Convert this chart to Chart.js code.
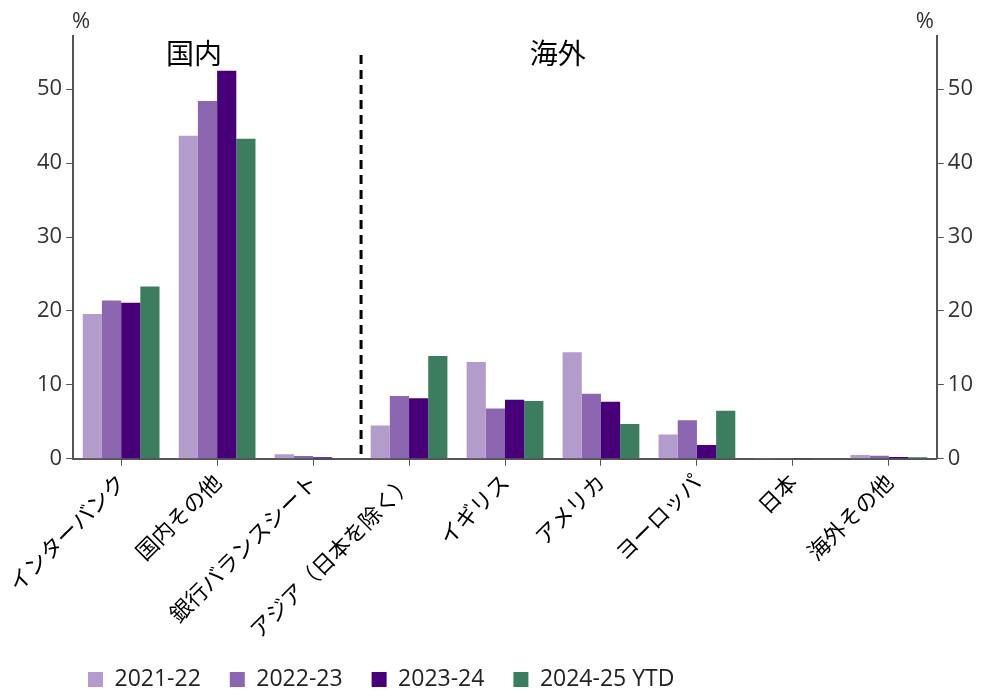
<!DOCTYPE html>
<html>
<head>
    <title>国内・海外</title>
    <style>
        body { margin: 0; background: #fff; }
        #wrap { width: 984px; height: 691px; }
    </style>
</head>
<body>
    <script src="https://cdn.jsdelivr.net/npm/chart.js@4/dist/chart.umd.min.js"></script>
    <div id="wrap"><canvas id="myChart"></canvas></div>

    <script>
        const categories = ['インターバンク', '国内その他', '銀行バランスシート', 'アジア（日本を除く）', 'イギリス', 'アメリカ', 'ヨーロッパ', '日本', '海外その他'];
        const seriesNames = ['2021-22', '2022-23', '2023-24', '2024-25 YTD'];
        const values2122 = [19.6, 43.7, 0.6, 4.5, 13.1, 14.4, 3.3, 0.1, 0.5];
        const values2223 = [21.4, 48.4, 0.37, 8.5, 6.8, 8.8, 5.2, 0.05, 0.4];
        const values2324 = [21.1, 52.5, 0.2, 8.2, 8.0, 7.7, 1.85, 0.02, 0.25];
        const values2425 = [23.3, 43.3, 0.05, 13.9, 7.8, 4.7, 6.5, 0.02, 0.2];
        const yTicks = [0, 10, 20, 30, 40, 50];
        const yMax = 57.2;

        const colors = ['#b39bcb', '#8c66b1', '#470078', '#3b7d5e'];
        const CJK = "'Noto Sans CJK JP', 'Noto Sans', sans-serif";
        const NUM = "'Open Sans', 'Noto Sans', sans-serif";

        // 注釈と破線
        const notes = {
            id: 'notes',
            afterDraw(chart) {
                const ctx = chart.ctx;
                const x = chart.scales.x;
                const area = chart.chartArea;
                const w = area.right - area.left;
                ctx.save();
                // 国内／海外の区切り
                const sep = (x.getPixelForValue(2) + x.getPixelForValue(3)) / 2;
                ctx.strokeStyle = '#000';
                ctx.lineWidth = 3;
                ctx.setLineDash([9, 6]);
                ctx.beginPath();
                ctx.moveTo(sep, area.top + 19);
                ctx.lineTo(sep, area.bottom);
                ctx.stroke();
                ctx.setLineDash([]);

                ctx.fillStyle = '#000';
                ctx.font = '28px ' + CJK;
                ctx.textAlign = 'center';
                ctx.textBaseline = 'middle';
                ctx.fillText('国内', area.left + w * 0.14, area.top + 17);
                ctx.fillText('海外', area.left + w * 0.561, area.top + 17);

                ctx.fillStyle = '#333';
                ctx.font = '22px ' + NUM;
                ctx.fillText('%', area.left + 8, area.top - 14);
                ctx.fillText('%', area.right - 12, area.top - 14);
                ctx.restore();
            }
        };

        // 凡例を左寄せ・少し上へ
        const legendShift = {
            id: 'legendShift',
            afterLayout(chart) {
                chart.legend.left = 59;
                chart.legend.top -= 7;
            }
        };

        const yScale = (pos) => ({
            position: pos,
            min: 0,
            max: yMax,
            afterBuildTicks: (s) => { s.ticks = yTicks.map(v => ({ value: v })); },
            border: { color: '#555', width: 2 },
            grid: { drawOnChartArea: false, drawTicks: true, tickLength: 7, color: '#555', lineWidth: 1 },
            ticks: { color: '#333', font: { size: 22, family: NUM }, padding: 4 }
        });

        new Chart('myChart', {
            type: 'bar',
            data: {
                labels: categories,
                datasets: [values2122, values2223, values2324, values2425].map((d, i) => ({
                    label: seriesNames[i],
                    data: d,
                    backgroundColor: colors[i],
                    categoryPercentage: 0.8,
                    barPercentage: 1.0,
                    yAxisID: 'y'
                }))
            },
            options: {
                responsive: true,
                maintainAspectRatio: false,
                animation: false,
                layout: { padding: { top: 36, right: 7, left: 33, bottom: -17 } },
                plugins: {
                    legend: {
                        position: 'bottom',
                        align: 'start',
                        labels: {
                            boxWidth: 15,
                            boxHeight: 15,
                            padding: 29,
                            color: '#222',
                            font: { size: 23, family: NUM }
                        }
                    },
                    tooltip: { enabled: false }
                },
                scales: {
                    x: {
                        border: { color: '#555', width: 2 },
                        grid: { display: true, drawOnChartArea: false, offset: false, tickLength: 7, color: '#555' },
                        ticks: {
                            color: '#000',
                            maxRotation: 45,
                            minRotation: 45,
                            autoSkip: false,
                            font: { size: 22, family: CJK }
                        }
                    },
                    y: yScale('left'),
                    y2: yScale('right')
                }
            },
            plugins: [notes, legendShift]
        });
    </script>
</body>
</html>
